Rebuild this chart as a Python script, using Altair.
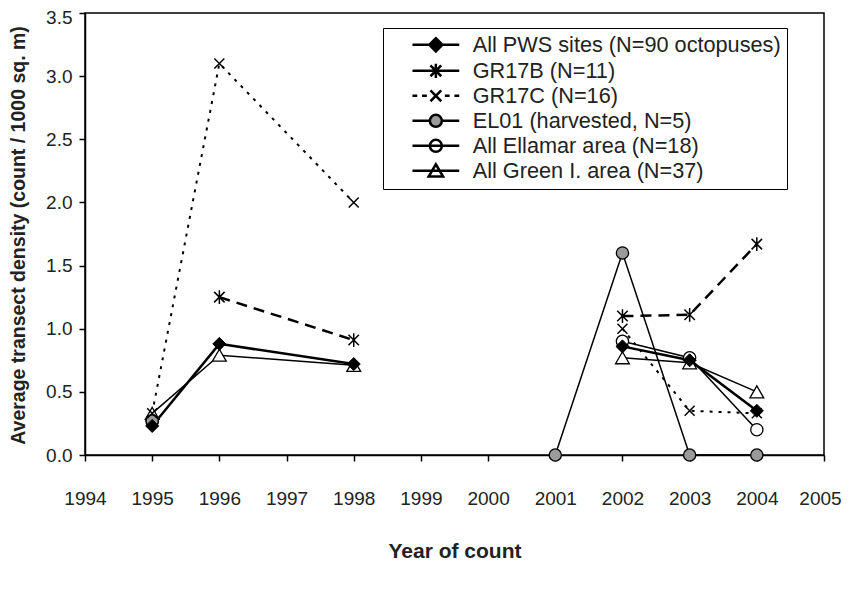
import altair as alt
import pandas as pd

# ---- data ----
names = ["All PWS sites (N=90 octopuses)", "GR17B (N=11)", "GR17C (N=16)",
         "EL01 (harvested, N=5)", "All Ellamar area (N=18)", "All Green I. area (N=37)"]

years_pws = [1995, 1996, 1998, 2002, 2003, 2004]
vals_pws = [0.23, 0.88, 0.72, 0.86, 0.75, 0.35]
years_gr17b = [1996, 1998, 2002, 2003, 2004]
vals_gr17b = [1.25, 0.91, 1.10, 1.11, 1.67]
years_gr17c = [1995, 1996, 1998, 2002, 2003, 2004]
vals_gr17c = [0.33, 3.10, 2.00, 1.00, 0.35, 0.33]
years_el01 = [1995, 2001, 2002, 2003, 2004]
vals_el01 = [0.27, 0.0, 1.60, 0.0, 0.0]
years_ellamar = [1995, 2002, 2003, 2004]
vals_ellamar = [0.27, 0.90, 0.77, 0.20]
years_green = [1995, 1996, 1998, 2002, 2003, 2004]
vals_green = [0.33, 0.79, 0.71, 0.77, 0.73, 0.50]

x_ticks = list(range(1994, 2006))
y_ticks = [0, 0.5, 1, 1.5, 2, 2.5, 3, 3.5]

series = [
    (names[0], years_pws, vals_pws),
    (names[1], years_gr17b, vals_gr17b),
    (names[2], years_gr17c, vals_gr17c),
    (names[3], years_el01, vals_el01),
    (names[4], years_ellamar, vals_ellamar),
    (names[5], years_green, vals_green),
]

def frame(name, years, vals):
    return pd.DataFrame({
        "series": name,
        "year": years,
        "value": vals,
        "seg": ["early" if y <= 1998 else "late" for y in years],
    })

FONT = "Liberation Sans"

x_enc = alt.X("year:Q",
              scale=alt.Scale(domain=[1994, 2005], nice=False, zero=False),
              axis=alt.Axis(values=x_ticks, format="d", title="Year of count",
                            titleY=96, titleBaseline="middle",
                            labelPadding=28, labelFlush=False,
                            labelOffset={"condition": {"test": "datum.value == 2005", "value": -4}, "value": 0}))
y_enc = alt.Y("value:Q",
              scale=alt.Scale(domain=[0, 3.5], nice=False),
              axis=alt.Axis(values=y_ticks, format=".1f",
                            title="Average transect density (count / 1000 sq. m)",
                            titleX=-57, titleY=222, titleFontSize=19.5,
                            labelPadding=7,
                            labelOffset={"condition": {"test": "datum.value == 3.5", "value": 4}, "value": 0}))

X_PATH = "M-1,-1L1,1M-1,1L1,-1"
AST_PATH = "M-1,-1L1,1M-1,1L1,-1M0,-1.3L0,1.3"

line_styles = [
    dict(strokeWidth=2.5),
    dict(strokeWidth=2.5, strokeDash=[11, 7]),
    dict(strokeWidth=2, strokeDash=[3, 6]),
    dict(strokeWidth=1.5),
    dict(strokeWidth=1.5),
    dict(strokeWidth=1.5),
]
point_styles = [
    dict(shape="diamond", filled=True, fill="black", stroke="black", size=170, strokeWidth=1),
    dict(shape=AST_PATH, filled=False, stroke="black", size=110, strokeWidth=1.5),
    dict(shape=X_PATH, filled=False, stroke="black", size=100, strokeWidth=1.5),
    dict(shape="circle", filled=True, fill="#9a9a9a", stroke="black", size=150, strokeWidth=1.3),
    dict(shape="circle", filled=True, fill="white", stroke="black", size=150, strokeWidth=1.3),
    dict(shape="triangle-up", filled=True, fill="white", stroke="black", size=190, strokeWidth=1.3),
]

line_layers = []
point_layers = {}
for i, (name, yrs, vals) in enumerate(series):
    df = frame(name, yrs, vals)
    line_layers.append(
        alt.Chart(df).mark_line(color="black", **line_styles[i]).encode(
            x=x_enc, y=y_enc, detail="seg:N")
    )
    point_layers[i] = alt.Chart(df).mark_point(opacity=1, **point_styles[i]).encode(
        x=x_enc, y=y_enc)

# legend symbols: line + marker drawn as one path (unit = 6 px)
leg_paths = [
    "M-3.9,0L3.9,0M0,-1.1L1.1,0L0,1.1L-1.1,0Z",
    "M-3.9,0L3.9,0M-0.9,-0.9L0.9,0.9M-0.9,0.9L0.9,-0.9M0,-1.2L0,1.2",
    "M-3.9,0L-3.1,0M-2.3,0L-1.5,0M1.5,0L2.3,0M3.1,0L3.9,0M-0.9,-0.9L0.9,0.9M-0.9,0.9L0.9,-0.9",
    "M-3.9,0L-1,0M1,0L3.9,0M1,0A1,1,0,1,1,-1,0A1,1,0,1,1,1,0Z",
    "M-3.9,0L3.9,0M1,0A1,1,0,1,1,-1,0A1,1,0,1,1,1,0Z",
    "M-3.9,0L3.9,0M0,-1.1L1.2,0.95L-1.2,0.95Z",
]
leg_fills = ["black", "transparent", "transparent", "#9a9a9a", "white", "white"]
leg_strokes = ["black"] * 6
leg_widths = [2.5, 2.5, 2, 1.5, 1.5, 1.5]

legend = alt.Legend(title=None, orient="none", legendX=298, legendY=15,
                    strokeColor="black", fillColor="white", padding=6,
                    labelFontSize=21.7, labelFont=FONT, labelColor="#222",
                    labelLimit=500, symbolSize=144, symbolOffset=36, labelOffset=26,
                    symbolStrokeColor="black", symbolOpacity=1, rowPadding=1)

legend_df = pd.DataFrame({
    "series": names,
    "year": [s[1][0] for s in series],
    "value": [s[2][0] for s in series],
})
legend_layer = alt.Chart(legend_df).mark_point(opacity=0, filled=True).encode(
    x=x_enc, y=y_enc,
    shape=alt.Shape("series:N", scale=alt.Scale(domain=names, range=leg_paths), legend=legend),
    fill=alt.Fill("series:N", scale=alt.Scale(domain=names, range=leg_fills), legend=legend),
    stroke=alt.Stroke("series:N", scale=alt.Scale(domain=names, range=leg_strokes), legend=legend),
    strokeWidth=alt.StrokeWidth("series:N", scale=alt.Scale(domain=names, range=leg_widths), legend=legend),
)

order = [5, 4, 3, 2, 1, 0]
chart = alt.layer(*line_layers, *[point_layers[i] for i in order], legend_layer).properties(
    width=739, height=442,
    autosize=alt.AutoSizeParams(type="none"),
    padding={"left": 77, "top": 5, "right": 18, "bottom": 120},
).configure_view(
    stroke="black", strokeWidth=1.5
).configure_axis(
    grid=False, domainColor="black", domainWidth=1.5, tickColor="black",
    tickWidth=1.5, tickSize=6, labelFont=FONT, labelFontSize=19, labelColor="#222",
    titleFont=FONT, titleFontSize=21, titleFontWeight="bold", titleColor="#222",
)

chart.save("out.html", embed_options={"renderer": "svg", "actions": False})
